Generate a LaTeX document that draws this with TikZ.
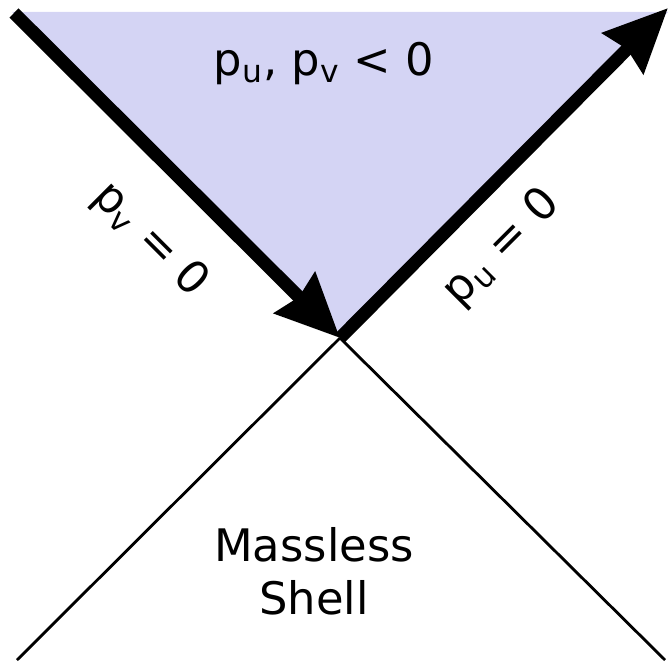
\documentclass[tikz,border=0pt]{standalone}
\usepackage{fontspec}
\setmainfont{DejaVu Sans}
\usetikzlibrary{arrows.meta}
\definecolor{ConeFill}{HTML}{D4D4F4}

\tikzset{
  shellline/.style={line width=1.6pt},
  nullray/.style={line width=7.4pt,-{Stealth[length=36pt,width=32pt,inset=3pt]}},
  conelabel/.style={font=\fontsize{25.5}{30}\selectfont,align=center}
}

\begin{document}
\begin{tikzpicture}[x=0.02cm,y=-0.02cm]
\path[use as bounding box] (0,0) rectangle (668,669);
% corners and vertex
\coordinate (O) at (340,338);
\coordinate (tl) at (14,13);
\coordinate (tr) at (668,8);
\coordinate (bl) at (17,660);
\coordinate (br) at (665,660);
% future region
\fill[ConeFill] (12,12) -- (668,12) -- (O) -- cycle;
% shell
\draw[shellline] (O) -- (bl);
\draw[shellline] (O) -- (br);
% null rays
\draw[nullray] (tl) -- (O);
\draw[nullray] (O) -- (tr);
% labels
\node[conelabel] (region) at (324,64) {p\textsubscript{u}, p\textsubscript{v} < 0};
\node[conelabel,rotate=-45] (pvzero) at (150,240) {p\textsubscript{v} = 0};
\node[conelabel,rotate=45] (puzero) at (502,248) {p\textsubscript{u} = 0};
\node[conelabel] (shell) at (314,571) {Massless\\Shell};
\end{tikzpicture}
\end{document}
